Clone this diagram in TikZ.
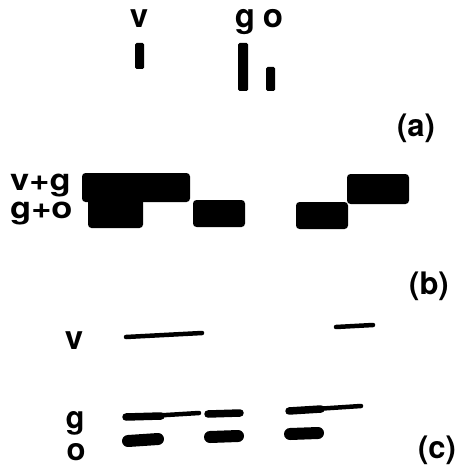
\documentclass[tikz,border=0pt]{standalone}
\usepackage{fontspec}
\setmainfont{TeX Gyre Heros}
\begin{document}
\begin{tikzpicture}[x=1pt,y=-1pt,
  lbl/.style={font=\fontsize{33}{33}\selectfont\bfseries, inner sep=0pt, anchor=base},
  side/.style={font=\fontsize{30}{26}\selectfont\bfseries, inner sep=0pt},
  tag/.style={font=\fontsize{31}{31}\selectfont\bfseries, inner sep=0pt},
  band/.style={fill=black, rounded corners=3.5pt},
  thin/.style={line width=4.5pt, line cap=round},
  mid/.style={line width=7.5pt, line cap=round},
  thick/.style={line width=12pt, line cap=round}]
\useasboundingbox (0,0) rectangle (457,473);
% ---- (a)
\node[lbl] (va) at (139,28) {v};
\node[lbl] (ga) at (245,28) {g};
\node[lbl] (oa) at (273,28) {o};
\fill[band, rounded corners=1.5pt] (135,43) rectangle (144,69);
\fill[band, rounded corners=1.5pt] (238,43) rectangle (248,91);
\fill[band, rounded corners=1.5pt] (266,67) rectangle (275,91);
\node[tag] (a) at (416,128) {(a)};
% ---- (b)
\node[side, anchor=west] (vg) at (10,186) {\scalebox{1.15}[1]{v+g}};
\node[side, anchor=west] (go) at (10,214) {\scalebox{1.15}[1]{g+o}};
\fill[band] (82,173) rectangle (190,202);
\fill[band] (88,198) rectangle (143,228);
\fill[band] (193,200) rectangle (245,227);
\fill[band] (296,202) rectangle (348,229);
\fill[band] (347,174) rectangle (409,204);
\node[tag] (b) at (429,286) {(b)};
% ---- (c)
\node[lbl] (vc) at (74,349) {v};
\node[lbl, font=\fontsize{31}{31}\selectfont\bfseries] (gc) at (75,428) {g};
\node[lbl, font=\fontsize{31}{31}\selectfont\bfseries] (oc) at (76,460) {o};
\draw[thin] (126,337) -- (202,333);
\draw[thin] (336,327) -- (373,325);
\draw[thin] (150,416) -- (199,413);
\draw[mid] (126,417) -- (161,416);
\draw[mid] (208,414) -- (240,413);
\draw[thin] (315,409) -- (361,406);
\draw[mid] (289,411) -- (321,409);
\draw[thick] (128,441) -- (158,439);
\draw[thick] (210,437) -- (238,436);
\draw[thick] (290,434) -- (318,433);
\node[tag] (c) at (437,450) {(c)};
\end{tikzpicture}
\end{document}
